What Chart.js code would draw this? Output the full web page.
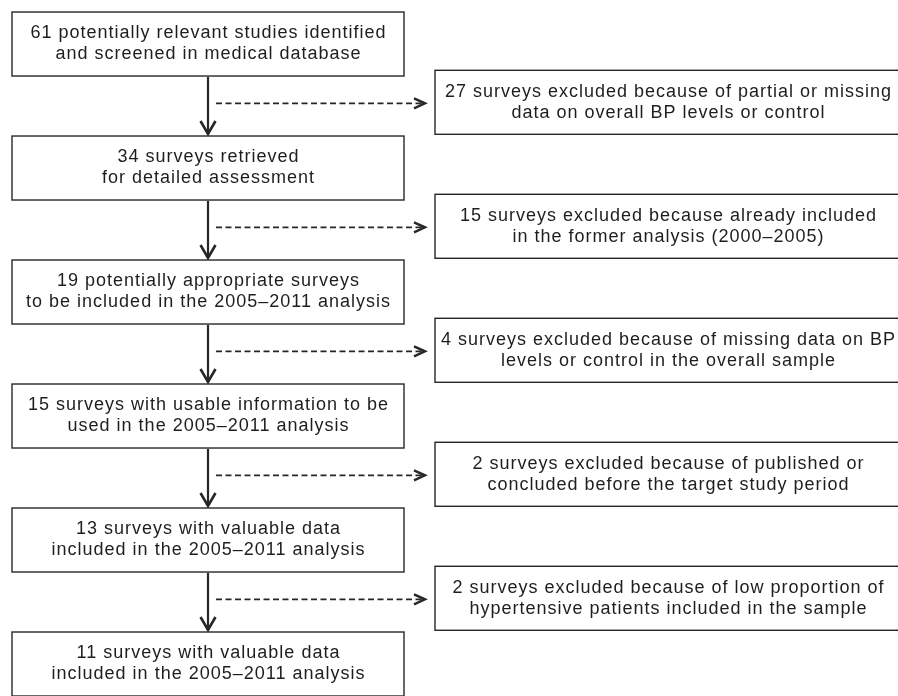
<!DOCTYPE html>
<html lang="en">
<head>
  <meta charset="UTF-8" />
  <title>Flow of surveys</title>
  <style>
    html,
    body {
      margin: 0;
      background: #fff;
    }

    .chart_box {
      width: 898px;
      height: 696px;
    }
  </style>
  <script src="https://cdn.jsdelivr.net/npm/chart.js"></script>
</head>
<body>
  <div class="chart_box">
    <canvas id="flowchart" width="898" height="696"></canvas>
  </div>
  <script>
    // surveys kept at each step, and the text after the number
    const includedCounts = [61, 34, 19, 15, 13, 11];
    const includedText = [
      ['potentially relevant studies identified', 'and screened in medical database'],
      ['surveys retrieved', 'for detailed assessment'],
      ['potentially appropriate surveys', 'to be included in the 2005–2011 analysis'],
      ['surveys with usable information to be', 'used in the 2005–2011 analysis'],
      ['surveys with valuable data', 'included in the 2005–2011 analysis'],
      ['surveys with valuable data', 'included in the 2005–2011 analysis']
    ];

    // surveys dropped between two steps
    const excludedCounts = [27, 15, 4, 2, 2];
    const excludedText = [
      ['surveys excluded because of partial or missing', 'data on overall BP levels or control'],
      ['surveys excluded because already included', 'in the former analysis (2000–2005)'],
      ['surveys excluded because of missing data on BP', 'levels or control in the overall sample'],
      ['surveys excluded because of published or', 'concluded before the target study period'],
      ['surveys excluded because of low proportion of', 'hypertensive patients included in the sample']
    ];

    // layout (pixels) kept apart from the data
    const mainBoxW = 392, sideBoxW = 466, boxH = 64, lineGap = 21;
    const lineColor = '#262626', textColor = '#1e1e1e';
    const font = '18px "Liberation Sans", Arial, sans-serif';

    const labelLines = (count, text) => [count + ' ' + text[0], text[1]];

    function drawBox(ctx, cx, cy, w, lines) {
      ctx.save();
      ctx.fillStyle = '#fff';
      ctx.fillRect(cx - w / 2, cy - boxH / 2, w, boxH);
      ctx.strokeStyle = lineColor;
      ctx.lineWidth = 1.4;
      ctx.strokeRect(cx - w / 2, cy - boxH / 2, w, boxH);
      ctx.fillStyle = textColor;
      ctx.font = font;
      ctx.letterSpacing = '1px';
      ctx.textAlign = 'center';
      ctx.textBaseline = 'middle';
      ctx.fillText(lines[0], cx + 0.5, cy - lineGap / 2);
      ctx.fillText(lines[1], cx + 0.5, cy + lineGap / 2);
      ctx.restore();
    }

    const flowPlugin = {
      id: 'flow',
      afterDatasetsDraw(chart) {
        const ctx = chart.ctx;
        const main = chart.getDatasetMeta(0).data;
        const side = chart.getDatasetMeta(1).data;

        // arrows first, boxes on top
        ctx.save();
        ctx.strokeStyle = lineColor;
        ctx.lineCap = 'butt';
        ctx.lineJoin = 'miter';
        for (let i = 0; i < side.length; i++) {
          const x = main[i].x;
          const y0 = main[i].y + boxH / 2 + 1;
          const y1 = main[i + 1].y - boxH / 2 - 2;
          ctx.lineWidth = 2.2;
          ctx.setLineDash([]);
          ctx.beginPath();
          ctx.moveTo(x, y0);
          ctx.lineTo(x, y1);
          ctx.stroke();
          ctx.lineWidth = 2.6;
          ctx.beginPath();
          ctx.moveTo(x - 7.5, y1 - 13);
          ctx.lineTo(x, y1);
          ctx.lineTo(x + 7.5, y1 - 13);
          ctx.stroke();

          const hy = side[i].y + 1;
          const tip = side[i].x - sideBoxW / 2 - 10;
          ctx.lineWidth = 1.8;
          ctx.setLineDash([6, 3.5]);
          ctx.beginPath();
          ctx.moveTo(x + 8, hy);
          ctx.lineTo(tip - 3, hy);
          ctx.stroke();
          ctx.setLineDash([]);
          ctx.lineWidth = 2.4;
          ctx.beginPath();
          ctx.moveTo(tip - 11, hy - 5);
          ctx.lineTo(tip, hy);
          ctx.lineTo(tip - 11, hy + 5);
          ctx.stroke();
        }
        ctx.restore();

        main.forEach((pt, i) => drawBox(ctx, pt.x, pt.y, mainBoxW, labelLines(includedCounts[i], includedText[i])));
        side.forEach((pt, i) => drawBox(ctx, pt.x, pt.y, sideBoxW, labelLines(excludedCounts[i], excludedText[i])));
      }
    };

    var chart = new Chart('flowchart', {
      type: 'scatter',
      data: {
        datasets: [{
          label: 'Included',
          data: includedCounts.map((n, i) => ({ x: 0, y: i })),
          pointRadius: 0
        },
        {
          label: 'Excluded',
          data: excludedCounts.map((n, i) => ({ x: 1, y: i + 0.47 })),
          pointRadius: 0
        }]
      },
      options: {
        responsive: false,
        animation: false,
        layout: { padding: 0 },
        plugins: {
          legend: { display: false },
          tooltip: { enabled: false }
        },
        scales: {
          x: { display: false, min: -0.4522, max: 1.5 },
          y: { display: false, reverse: true, min: -0.355, max: 5.258 }
        }
      },
      plugins: [flowPlugin]
    });
  </script>
</body>
</html>
